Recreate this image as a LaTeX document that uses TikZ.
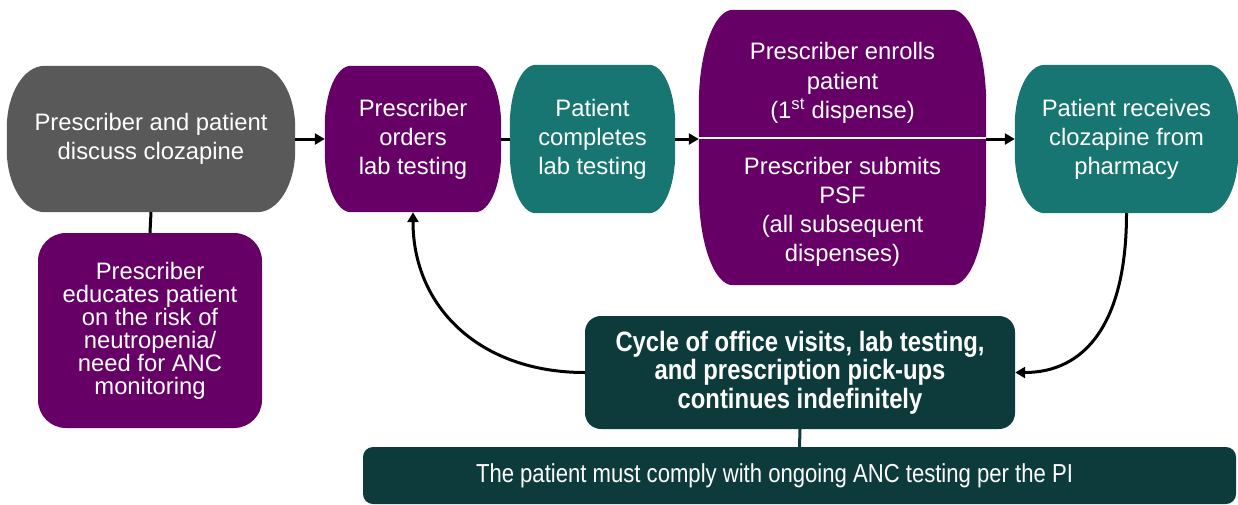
\documentclass[tikz,border=0pt]{standalone}
\usepackage{fontspec}
\setmainfont{Liberation Sans}
\newfontfamily\narrowsans[FakeStretch=0.85]{Liberation Sans}
\usetikzlibrary{arrows.meta,backgrounds}

\definecolor{cgrey}{HTML}{595959}
\definecolor{cplum}{HTML}{660066}
\definecolor{cteal}{HTML}{187672}
\definecolor{cdark}{HTML}{0D3B3B}

\tikzset{
  boxtext/.style={text=white, align=center, inner sep=0pt,
    font=\fontsize{23.8}{29}\selectfont},
  flow/.style={line width=3pt, -{Triangle[length=10pt,width=11pt]}},
  link/.style={line width=3pt},
}

\begin{document}
\begin{tikzpicture}[x=1pt,y=-1pt]
\useasboundingbox (0,0) rectangle (1238,504);

% top row
\node[boxtext, minimum width=288pt, minimum height=146pt] (disc) at (151,139)
  {Prescriber and patient\\discuss clozapine};
\node[boxtext, minimum width=176pt, minimum height=146pt] (ord) at (413,139)
  {Prescriber\\orders\\lab testing};
\node[boxtext, minimum width=165pt, minimum height=148pt] (lab) at (592.5,139)
  {Patient\\completes\\lab testing};
\node[minimum width=287pt, minimum height=275pt, inner sep=0pt] (enr) at (842.5,147.5) {};
\node[boxtext, font=\fontsize{23.8}{29.5}\selectfont] (enrtop) at (842.5,83)
  {Prescriber enrolls\\patient\\(1\textsuperscript{st} dispense)};
\node[boxtext] (enrbot) at (842.5,212)
  {Prescriber submits\\PSF\\(all subsequent\\dispenses)};
\node[boxtext, minimum width=223pt, minimum height=148pt] (rec) at (1126.5,139)
  {Patient receives\\clozapine from\\pharmacy};

% boxes below
\node[boxtext, fill=cplum, rounded corners=28pt, minimum width=224pt, minimum height=195pt,
  font=\fontsize{23.8}{23}\selectfont] (edu) at (150,330.5)
  {Prescriber\\educates patient\\on the risk of\\neutropenia/\\need for ANC\\monitoring};
\node[boxtext, fill=cdark, rounded corners=16pt, minimum width=430pt, minimum height=113pt,
  font=\narrowsans\bfseries\fontsize{28}{28.5}\selectfont] (cyc) at (800,372.5)
  {Cycle of office visits, lab testing,\\and prescription pick-ups\\continues indefinitely};
\node[boxtext, fill=cdark, rounded corners=10pt, minimum width=873pt, minimum height=57pt,
  font=\narrowsans\fontsize{26}{30}\selectfont] (pi) at (799.5,475.5)
  {The patient must comply with ongoing ANC testing per the PI\hspace*{50pt}};

% soft-cornered fills behind the top row
\begin{scope}[on background layer]
  \foreach \n/\rx/\ry/\c in {disc/38pt/62pt/cgrey, ord/26pt/60pt/cplum, lab/26pt/60pt/cteal,
                             enr/34pt/95pt/cplum, rec/30pt/60pt/cteal}
    \fill[\c] ([xshift=\rx]\n.north west) -- ([xshift=-\rx]\n.north east)
      arc[start angle=90, end angle=0, x radius=\rx, y radius=\ry]
      -- ([yshift=\ry]\n.south east)
      arc[start angle=0, end angle=-90, x radius=\rx, y radius=\ry]
      -- ([xshift=\rx]\n.south west)
      arc[start angle=270, end angle=180, x radius=\rx, y radius=\ry]
      -- ([yshift=-\ry]\n.north west)
      arc[start angle=180, end angle=90, x radius=\rx, y radius=\ry] -- cycle;
\end{scope}

\coordinate (cut) at (842.5,138);
\draw[white, line width=2pt] (enr.west |- cut) -- (enr.east |- cut);

% connectors
\draw[flow] (disc) -- (ord);
\draw[link] (ord) -- (lab);
\draw[flow] (lab.east) -- (lab.east -| enr.west);
\draw[flow] (enr.east |- rec.west) -- (rec.west);
\draw[link] (disc.south) -- (edu.north);
\draw[link, cdark] (cyc.south) -- (pi.north);
\draw[flow] (rec.south) .. controls +(0,110) and +(70,0) .. (cyc.east);
\draw[flow] (cyc.west) .. controls +(-105,0) and +(0,95) .. (ord.south);
\end{tikzpicture}
\end{document}
